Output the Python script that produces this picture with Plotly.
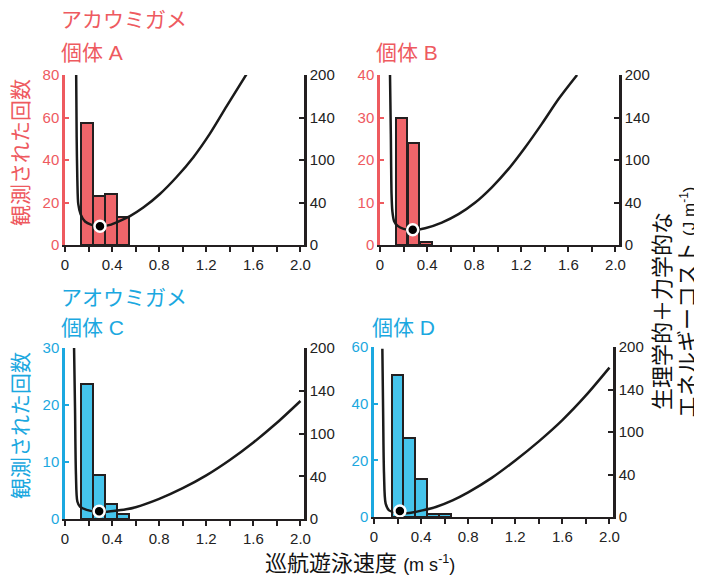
import plotly.graph_objects as go

# page offset (body margin) compensation
OFF = 8
W, H = 702 - OFF, 577 - OFF

# ---------------- data ----------------
# histogram bins (bin centres, m/s) and counts
A_bins = [0.19, 0.29, 0.39, 0.49]
A_counts = [57.5, 23, 24, 13]
B_bins = [0.183, 0.285, 0.39]
B_counts = [30, 24, 0.8]
C_bins = [0.19, 0.29, 0.39, 0.49]
C_counts = [23.7, 7.7, 2.6, 0.9]
D_bins = [0.2, 0.3, 0.4, 0.5, 0.6]
D_counts = [50, 28, 13.5, 1, 1]

# cost curves (speed m/s, cost J/m on the right axis)
A_speed = [0.095, 0.099, 0.105, 0.113, 0.133, 0.17, 0.226, 0.297, 0.382, 0.453,
           0.552, 0.665, 0.806, 0.948, 1.089, 1.231, 1.372, 1.542]
A_cost = [200, 127, 76, 48, 36, 27.6, 23.7, 21.7, 23.7, 27.6,
          34, 44, 60, 80, 103, 131, 163, 201]
B_speed = [0.085, 0.092, 0.098, 0.105, 0.12, 0.15, 0.2, 0.284, 0.383, 0.525,
           0.667, 0.809, 0.95, 1.092, 1.234, 1.376, 1.518, 1.674]
B_cost = [200, 130, 60, 40, 28, 22.5, 19, 17.4, 19.7, 26.4,
          36.3, 50, 67.9, 89.5, 115, 142.8, 172, 200]
C_speed = [0.077, 0.085, 0.093, 0.105, 0.127, 0.184, 0.289, 0.41, 0.52, 0.6,
           0.8, 1.0, 1.2, 1.4, 1.6, 1.8, 2.0]
C_cost = [200, 130, 52, 20.5, 14.6, 10.6, 7.9, 9.3, 11.3, 13.8,
          23.5, 36, 51, 69, 89.5, 112.5, 138]
D_speed = [0.071, 0.077, 0.085, 0.099, 0.128, 0.213, 0.298, 0.411, 0.525, 0.667,
           0.8, 1.0, 1.2, 1.4, 1.6, 1.8, 2.0]
D_cost = [198, 129, 51, 15.7, 7.8, 4.7, 4.7, 7.8, 11.8, 19.6,
          29, 46, 66.5, 89, 114, 143, 175.7]

# optimal points
A_opt = (0.297, 22)
B_opt = (0.278, 18)
C_opt = (0.29, 9)
D_opt = (0.22, 7)

# axis ticks
x_ticks = [0, 0.4, 0.8, 1.2, 1.6, 2.0]
x_ticktext = ["0", "0.4", "0.8", "1.2", "1.6", "2.0"]
cost_ticks = [0, 50, 100, 150, 200]
cost_ticktext = ["0", "40", "100", "140", "200"]
left_max = {"A": 80, "B": 40, "C": 30, "D": 60}
left_dtick = {"A": 20, "B": 10, "C": 10, "D": 20}

RED_TXT = "#EE5A5F"
RED_FILL = "#F0656A"
BLUE_TXT = "#1BA8E0"
BLUE_FILL = "#45C4EC"
DARK = "#231F20"
FONT = "Liberation Sans, Noto Sans CJK JP, sans-serif"


def px(x):
    return (x - OFF) / W


def py(y):
    return 1 - (y - OFF) / H


panels = [
    ("A", A_bins, A_counts, A_speed, A_cost, A_opt, RED_FILL, RED_TXT, (65, 304), (75, 245)),
    ("B", B_bins, B_counts, B_speed, B_cost, B_opt, RED_FILL, RED_TXT, (380, 619), (75, 245)),
    ("C", C_bins, C_counts, C_speed, C_cost, C_opt, BLUE_FILL, BLUE_TXT, (65, 304), (348, 519)),
    ("D", D_bins, D_counts, D_speed, D_cost, D_opt, BLUE_FILL, BLUE_TXT, (374, 613), (347, 517)),
]

fig = go.Figure()
layout = {}

for i, (name, bins, counts, spd, cost, opt, fill, tcol, xd, yd) in enumerate(panels):
    xa = "x" if i == 0 else f"x{i + 1}"
    yl = "y" if i == 0 else f"y{2 * i + 1}"
    yr = f"y{2 * i + 2}"
    xkey = "xaxis" if i == 0 else f"xaxis{i + 1}"
    ylkey = "yaxis" if i == 0 else f"yaxis{2 * i + 1}"
    yrkey = f"yaxis{2 * i + 2}"

    fig.add_trace(go.Bar(x=bins, y=counts, width=0.1, xaxis=xa, yaxis=yl,
                         marker=dict(color=fill, line=dict(color=DARK, width=2)),
                         showlegend=False, hoverinfo="skip"))
    fig.add_trace(go.Scatter(x=spd, y=cost, mode="lines", xaxis=xa, yaxis=yr,
                             line=dict(color="#1a1a1a", width=2.5, shape="spline", smoothing=0.8),
                             showlegend=False, hoverinfo="skip"))
    fig.add_trace(go.Scatter(x=[opt[0]], y=[opt[1]], mode="markers", xaxis=xa, yaxis=yr,
                             marker=dict(color="black", size=11, line=dict(color="white", width=2.5)),
                             showlegend=False, hoverinfo="skip", cliponaxis=False))

    layout[xkey] = dict(domain=[px(xd[0]), px(xd[1])], range=[0, 2.03], anchor=yl,
                        tickvals=x_ticks, ticktext=x_ticktext, ticks="outside", ticklen=5,
                        tickwidth=2, tickcolor=DARK, showline=True, linecolor=DARK, linewidth=2,
                        minor=dict(ticks="outside", tick0=0, dtick=0.2, ticklen=5, tickwidth=2,
                                   tickcolor=DARK, showgrid=False),
                        showgrid=False, zeroline=False, automargin=False,
                        tickfont=dict(size=15, color="#222", family=FONT))
    layout[ylkey] = dict(domain=[py(yd[1]), py(yd[0])], range=[0, left_max[name]], anchor=xa,
                         dtick=left_dtick[name], ticks="inside", ticklen=4, tickwidth=2,
                         tickcolor=tcol, showline=True, linecolor=tcol, linewidth=2.5,
                         showgrid=False, zeroline=False, automargin=False,
                         tickfont=dict(size=15, color=tcol, family=FONT))
    layout[yrkey] = dict(overlaying=yl, side="right", anchor=xa, range=[0, 200],
                         tickvals=cost_ticks, ticktext=cost_ticktext, ticks="inside", ticklen=5,
                         tickwidth=2, tickcolor=DARK, showline=True, linecolor=DARK, linewidth=2.5,
                         showgrid=False, zeroline=False, automargin=False,
                         tickfont=dict(size=15, color="#222", family=FONT))

annotations = []


def ann(text, x, y, color, size, xanchor="left", angle=0):
    annotations.append(dict(text=text, x=px(x), y=py(y), xref="paper", yref="paper",
                            xanchor=xanchor, yanchor="middle", showarrow=False, borderpad=0,
                            textangle=angle, font=dict(size=size, color=color, family=FONT)))


ann("アカウミガメ", 60, 20, RED_TXT, 21)
ann("個体 A", 60, 52, RED_TXT, 21)
ann("個体 B", 375, 52, RED_TXT, 21)
ann("アオウミガメ", 60, 297, BLUE_TXT, 21)
ann("個体 C", 60, 327, BLUE_TXT, 21)
ann("個体 D", 371, 327, BLUE_TXT, 21)
ann("観測された回数", 20, 153, RED_TXT, 21, xanchor="center", angle=-90)
ann("観測された回数", 20, 426, BLUE_TXT, 21, xanchor="center", angle=-90)
ann("生理学的＋力学的な", 662, 311, "#111", 22, xanchor="center", angle=-90)
ann("エネルギーコスト <span style='font-size:17px'>(J m<sup>-1</sup>)</span>", 687, 303,
    "#111", 22, xanchor="center", angle=-90)
ann("巡航遊泳速度 <span style='font-size:18px'>(m s<sup>-1</sup>)</span>", 360, 563,
    "#111", 22, xanchor="center")

fig.update_layout(width=W, height=H, margin=dict(l=0, r=0, t=0, b=0, autoexpand=False),
                  paper_bgcolor="white", plot_bgcolor="white",
                  font=dict(family=FONT), bargap=0, barmode="overlay",
                  annotations=annotations, **layout)

fig.write_html("out.html")
